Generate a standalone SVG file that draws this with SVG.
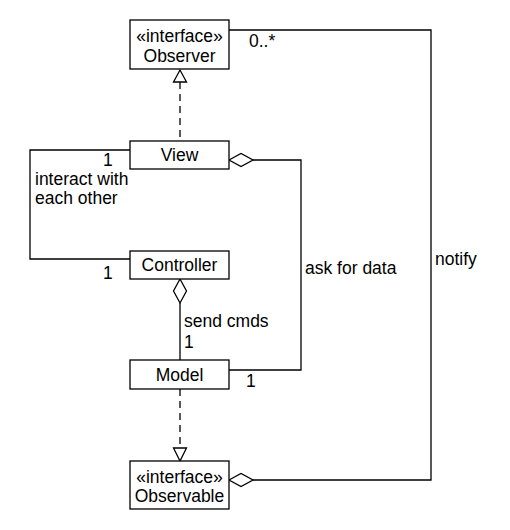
<svg xmlns="http://www.w3.org/2000/svg" width="510" height="530" viewBox="0 0 510 530">
<style>
.box{fill:#fff;stroke:#000;stroke-width:1.3}
.ln{fill:none;stroke:#000;stroke-width:1.3}
.dash{stroke-dasharray:7,5}
.dia{fill:#fff;stroke:#000;stroke-width:1.3}
text{font-family:"Liberation Sans",Arial,sans-serif;font-size:17.5px;fill:#000}
.c{text-anchor:middle}
</style>
<rect width="510" height="530" fill="#fff"/>
<g id="connectors">
<line class="ln dash" x1="180" y1="82" x2="180" y2="141"/>
<polygon class="dia" points="180,70 173.5,82 186.5,82"/>
<polyline class="ln" points="130,150 30,150 30,259 130,259"/>
<polyline class="ln" points="253,160 301,160 301,370 229,370"/>
<polygon class="dia" points="229,160 241,153.5 253,160 241,166.5"/>
<line class="ln" x1="180" y1="303" x2="180" y2="360"/>
<polygon class="dia" points="180,279 173.5,291 180,303 186.5,291"/>
<line class="ln dash" x1="180" y1="389" x2="180" y2="448"/>
<polygon class="dia" points="180,461 173.5,448 186.5,448"/>
<polyline class="ln" points="229,30 431,30 431,480 253,480"/>
<polygon class="dia" points="229,480 241,473.5 253,480 241,486.5"/>
<text x="249" y="47">0..*</text>
<text x="103" y="166">1</text>
<text x="35" y="185">interact with</text>
<text x="35" y="204">each other</text>
<text x="103" y="279">1</text>
<text x="305" y="274">ask for data</text>
<text x="435" y="265">notify</text>
<text x="184" y="327">send cmds</text>
<text x="184" y="348">1</text>
<text x="246" y="387">1</text>
</g>
<g id="observer">
<rect class="box" x="130" y="20" width="99" height="49"/>
<text class="c" x="179.5" y="42">«interface»</text>
<text class="c" x="179.5" y="62">Observer</text>
</g>
<g id="view">
<rect class="box" x="130" y="141" width="99" height="28"/>
<text class="c" x="179.5" y="161">View</text>
</g>
<g id="controller">
<rect class="box" x="130" y="251" width="99" height="28"/>
<text class="c" x="179.5" y="271">Controller</text>
</g>
<g id="model">
<rect class="box" x="130" y="360" width="99" height="29"/>
<text class="c" x="179.5" y="381">Model</text>
</g>
<g id="observable">
<rect class="box" x="130" y="461" width="99" height="48"/>
<text class="c" x="179.5" y="483">«interface»</text>
<text class="c" x="179.5" y="502">Observable</text>
</g>
</svg>
